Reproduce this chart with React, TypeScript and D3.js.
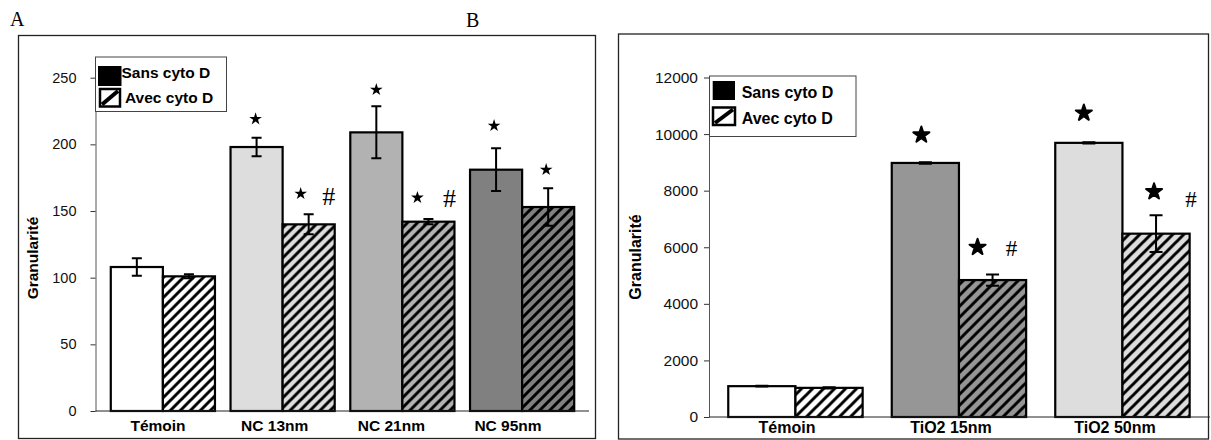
import React, { useEffect, useRef } from 'react';
import * as d3 from 'd3';

// panel A
const categoriesA = ['Témoin', 'NC 13nm', 'NC 21nm', 'NC 95nm'];
const sansA = [108, 198, 209, 181];
const sansErrA = [6.5, 7, 19.5, 16];
const avecA = [101, 140, 142, 153];
const avecErrA = [1.5, 7.5, 2, 14];
const starSansA = [null, 219, 241, 214];
const starAvecA = [null, 163, 160, 181];
const hashAvecA = [null, 161, 160, null];
const ticksA = [0, 50, 100, 150, 200, 250];

// panel B
const categoriesB = ['Témoin', 'TiO2 15nm', 'TiO2 50nm'];
const sansB = [1090, 8980, 9690];
const sansErrB = [15, 25, 20];
const avecB = [1030, 4840, 6480];
const avecErrB = [20, 200, 650];
const starSansB = [null, 9970, 10745];
const starAvecB = [null, 6000, 7965];
const hashAvecB = [null, 5990, 7700];
const ticksB = [0, 2000, 4000, 6000, 8000, 10000, 12000];

const seriesNames = ['Sans cyto D', 'Avec cyto D'];
const yTitle = 'Granularité';

const SANS = 'Liberation Sans, Arial, sans-serif';
const SERIF = 'Liberation Serif, Times New Roman, serif';

const panels = [
  {
    id: 'A', letter: 'A', letterX: 10, letterY: 26,
    frame: [18.5, 35.5, 577, 403],
    categories: categoriesA, sans: sansA, sansErr: sansErrA, avec: avecA, avecErr: avecErrA,
    starSans: starSansA, starAvec: starAvecA, hashAvec: hashAvecA, ticks: ticksA,
    colors: ['#ffffff', '#dddddd', '#b2b2b2', '#808080'],
    yDomain: [0, 265], yRange: [411, 57.7],
    axisX: 95.5, axisEnd: 589,
    xRange: [103, 582], padIn: 0.13, padOut: 0.065,
    labelRange: [158, 508], labelY: 431,
    tickPad: 14, tickFont: 14.5, fontSize: 15.5,
    titleX: 33, titleY: 258,
    starSize: 50, starStroke: 0, hashSize: 26, cap: 5, hatch: 10,
    starSansDx: [0, -1, 0, -2], starAvecDx: [0, -8, -11, -2], hashDx: [0, 20, 21, 0],
    legend: { box: [95.5, 57, 131, 54.5], sw1: [98, 66, 23.5, 20], sw2: [100, 89, 20, 17.5], t1: [121.5, 78], t2: [125, 102.5] },
  },
  {
    id: 'B', letter: 'B', letterX: 466, letterY: 27,
    frame: [618.5, 34, 590, 405],
    categories: categoriesB, sans: sansB, sansErr: sansErrB, avec: avecB, avecErr: avecErrB,
    starSans: starSansB, starAvec: starAvecB, hashAvec: hashAvecB, ticks: ticksB,
    colors: ['#ffffff', '#969696', '#dddddd'],
    yDomain: [0, 12000], yRange: [417, 77.5],
    axisX: 709, axisEnd: 1210,
    xRange: [713.7, 1204.2], padIn: 0.178, padOut: 0.089,
    labelRange: [787, 1115], labelY: 433,
    tickPad: 6, tickFont: 15.5, fontSize: 16,
    titleX: 635, titleY: 257,
    starSize: 80, starStroke: 2, hashSize: 23, cap: 6.5, hatch: 11,
    starSansDx: [0, -4, -5], starAvecDx: [0, -15, -2], hashDx: [0, 19, 35],
    legend: { box: [709.5, 76, 146.5, 60.5], sw1: [712.7, 81, 22.3, 19], sw2: [713, 107.5, 22, 17.5], t1: [741.7, 98.3], t2: [741.7, 124] },
  },
];

function drawPanel(svg, defs, p) {
  const g = svg.append('g');

  // cadre
  g.append('rect')
    .attr('x', p.frame[0]).attr('y', p.frame[1])
    .attr('width', p.frame[2]).attr('height', p.frame[3])
    .attr('fill', '#fff').attr('stroke', '#222').attr('stroke-width', 1.3);

  svg.append('text')
    .attr('x', p.letterX).attr('y', p.letterY)
    .attr('font-family', SERIF).attr('font-size', 20)
    .text(p.letter);

  const y = d3.scaleLinear().domain(p.yDomain).range(p.yRange);
  const x = d3.scaleBand().domain(p.categories).range(p.xRange)
    .paddingInner(p.padIn).paddingOuter(p.padOut);
  const xs = d3.scaleBand().domain(['sans', 'avec']).range([0, x.bandwidth()]);
  const xl = d3.scalePoint().domain(p.categories).range(p.labelRange);

  // motifs hachurés
  p.colors.forEach((c, i) => {
    const s = p.hatch;
    const pat = defs.append('pattern')
      .attr('id', `hatch-${p.id}-${i}`)
      .attr('patternUnits', 'userSpaceOnUse')
      .attr('width', s).attr('height', s);
    pat.append('rect').attr('width', s).attr('height', s).attr('fill', c);
    pat.append('path')
      .attr('d', `M0,${s}L${s},0M${-s / 2},${s / 2}L${s / 2},${-s / 2}M${s / 2},${1.5 * s}L${1.5 * s},${s / 2}`)
      .attr('stroke', '#000').attr('stroke-width', 3);
  });

  const rows = p.categories.map((cat, i) => ({
    cat, i,
    bars: [
      { key: 'sans', v: p.sans[i], e: p.sansErr[i], fill: p.colors[i], star: p.starSans[i], sdx: p.starSansDx[i], hash: null, hdx: 0 },
      { key: 'avec', v: p.avec[i], e: p.avecErr[i], fill: `url(#hatch-${p.id}-${i})`, star: p.starAvec[i], sdx: p.starAvecDx[i], hash: p.hashAvec[i], hdx: p.hashDx[i] },
    ],
  }));

  const groups = g.selectAll('g.grp').data(rows).join('g')
    .attr('transform', d => `translate(${x(d.cat)},0)`);

  const bars = groups.selectAll('g.bar').data(d => d.bars).join('g');

  bars.append('rect')
    .attr('x', d => xs(d.key))
    .attr('y', d => y(d.v))
    .attr('width', xs.bandwidth())
    .attr('height', d => y(0) - y(d.v))
    .attr('fill', d => d.fill)
    .attr('stroke', '#000').attr('stroke-width', 2.2);

  // barres d'erreur
  const cx = d => xs(d.key) + xs.bandwidth() / 2;
  bars.append('path')
    .attr('d', d => {
      const t = y(d.v + d.e), b = y(d.v - d.e), c = cx(d);
      return `M${c},${t}L${c},${b}M${c - p.cap},${t}L${c + p.cap},${t}M${c - p.cap},${b}L${c + p.cap},${b}`;
    })
    .attr('fill', 'none').attr('stroke', '#000').attr('stroke-width', 2);

  // étoiles
  bars.filter(d => d.star != null).append('path')
    .attr('transform', d => `translate(${cx(d) + d.sdx},${y(d.star)})`)
    .attr('d', d3.symbol(d3.symbolStar, p.starSize)())
    .attr('fill', '#000').attr('stroke', '#000')
    .attr('stroke-width', p.starStroke).attr('stroke-linejoin', 'round');

  bars.filter(d => d.hash != null).append('text')
    .attr('x', d => cx(d) + d.hdx)
    .attr('y', d => y(d.hash))
    .attr('dy', '0.35em')
    .attr('text-anchor', 'middle')
    .attr('font-family', SERIF).attr('font-size', p.hashSize)
    .text('#');

  // axe Y
  const yAxis = g.append('g')
    .attr('transform', `translate(${p.axisX},0)`)
    .call(d3.axisLeft(y).tickValues(p.ticks).tickSize(5).tickSizeOuter(0).tickPadding(p.tickPad).tickFormat(d3.format('d')));
  yAxis.select('.domain').attr('stroke', '#555');
  yAxis.selectAll('.tick line').attr('stroke', '#333');
  yAxis.selectAll('.tick text')
    .attr('font-family', SANS).attr('font-size', p.tickFont).attr('fill', '#111');

  // axe X
  g.append('line')
    .attr('x1', p.axisX).attr('x2', p.axisEnd)
    .attr('y1', y(0)).attr('y2', y(0))
    .attr('stroke', '#222').attr('stroke-width', 1.2);

  g.selectAll('text.cat').data(p.categories).join('text')
    .attr('x', d => xl(d)).attr('y', p.labelY)
    .attr('text-anchor', 'middle')
    .attr('font-family', SANS).attr('font-weight', 'bold').attr('font-size', p.fontSize)
    .text(d => d);

  g.append('text')
    .attr('transform', `translate(${p.titleX},${p.titleY}) rotate(-90)`)
    .attr('text-anchor', 'middle').attr('dy', '0.35em')
    .attr('font-family', SANS).attr('font-weight', 'bold').attr('font-size', p.fontSize)
    .text(yTitle);

  // légende
  const L = p.legend;
  const lg = g.append('g');
  lg.append('rect')
    .attr('x', L.box[0]).attr('y', L.box[1]).attr('width', L.box[2]).attr('height', L.box[3])
    .attr('fill', '#fff').attr('stroke', '#444').attr('stroke-width', 1);
  lg.append('rect')
    .attr('x', L.sw1[0]).attr('y', L.sw1[1]).attr('width', L.sw1[2]).attr('height', L.sw1[3])
    .attr('fill', '#000');
  lg.append('rect')
    .attr('x', L.sw2[0]).attr('y', L.sw2[1]).attr('width', L.sw2[2]).attr('height', L.sw2[3])
    .attr('fill', '#fff').attr('stroke', '#000').attr('stroke-width', 2.5);
  lg.append('line')
    .attr('x1', L.sw2[0] + 2).attr('y1', L.sw2[1] + L.sw2[3] - 2)
    .attr('x2', L.sw2[0] + L.sw2[2] - 2).attr('y2', L.sw2[1] + 2)
    .attr('stroke', '#000').attr('stroke-width', 4);
  [L.t1, L.t2].forEach((t, i) => {
    lg.append('text')
      .attr('x', t[0]).attr('y', t[1])
      .attr('font-family', SANS).attr('font-weight', 'bold').attr('font-size', p.fontSize)
      .text(seriesNames[i]);
  });
}

const App = () => {
  const svgRef = useRef(null);

  useEffect(() => {
    const svg = d3.select(svgRef.current);
    svg.selectAll('*').remove();
    const defs = svg.append('defs');
    panels.forEach(p => drawPanel(svg, defs, p));
  }, []);

  return (
    <svg
      ref={svgRef}
      width={1211}
      height={440}
      style={{ position: 'absolute', left: 0, top: 0, background: '#fff' }}
    />
  );
};

export default App;
